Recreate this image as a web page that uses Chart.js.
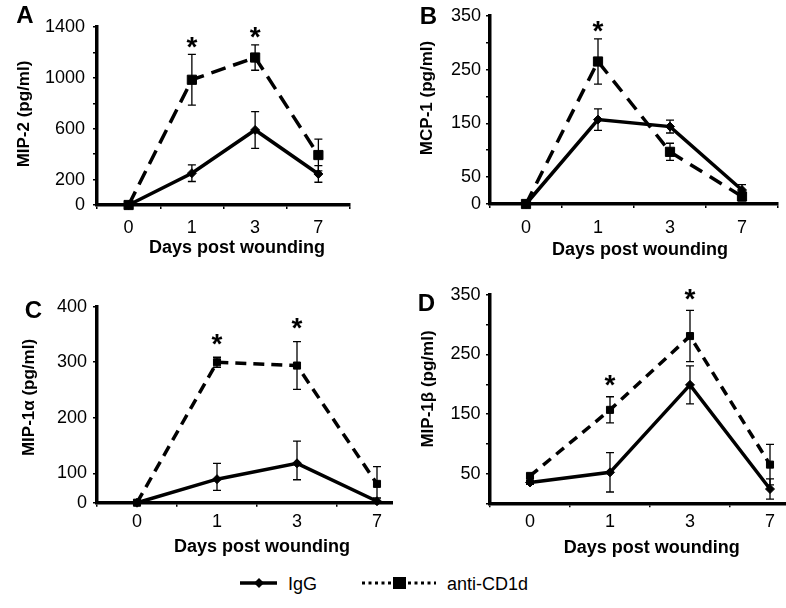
<!DOCTYPE html>
<html>
<head>
<meta charset="utf-8">
<title>Chemokines after wounding</title>
<script src="https://cdn.jsdelivr.net/npm/chart.js@4.4.1/dist/chart.umd.min.js"></script>
<style>
html,body{margin:0;padding:0;background:#fff;}
#wrap{position:relative;width:786px;height:608px;overflow:hidden;background:#fff;}
#wrap canvas{position:absolute;background:#fff;}
#legend{position:absolute;left:0;top:560px;}
</style>
</head>
<body>
<div id="wrap">
  <canvas id="cA" width="393" height="260" style="left:0px;top:0px;width:393px;height:260px"></canvas>
  <canvas id="cB" width="393" height="260" style="left:393px;top:0px;width:393px;height:260px"></canvas>
  <canvas id="cC" width="440" height="300" style="left:0px;top:260px;width:440px;height:300px"></canvas>
  <canvas id="cD" width="440" height="300" style="left:393px;top:260px;width:440px;height:300px"></canvas>
  <svg id="legend" width="786" height="48" xmlns="http://www.w3.org/2000/svg">
    <line x1="240" y1="23" x2="277" y2="23" stroke="#000" stroke-width="3.5"/>
    <polygon points="259,18 264,23 259,28 254,23" fill="#000"/>
    <text id="legIgG" x="288" y="30" font-family="Liberation Sans, Arial, sans-serif" font-size="18" fill="#000"></text>
    <line x1="362" y1="23" x2="393" y2="23" stroke="#000" stroke-width="3" stroke-dasharray="3,3.5"/>
    <rect x="393" y="17" width="13" height="12" fill="#000"/>
    <line x1="408" y1="23" x2="436" y2="23" stroke="#000" stroke-width="3" stroke-dasharray="3,3.5"/>
    <text id="legAnti" x="447" y="30" font-family="Liberation Sans, Arial, sans-serif" font-size="18" fill="#000"></text>
  </svg>
</div>
<script>
// ---------- data ----------
const days = ['0', '1', '3', '7'];
const seriesNames = ['IgG', 'anti-CD1d'];
const xTitle = 'Days post wounding';

// Panel A: MIP-2
const mip2IgG = [0, 250, 590, 244];
const mip2IgGErr = [0, 65, 145, 65];
const mip2Anti = [0, 985, 1160, 393];
const mip2AntiErr = [0, 200, 100, 125];
const mip2Stars = [1, 2];
const mip2TickVals = [0, 200, 400, 600, 800, 1000, 1200, 1400];
const mip2TickLabels = ['0', '200', '600', '1000', '1400'];

// Panel B: MCP-1
const mcp1IgG = [0, 157, 144, 26];
const mcp1IgGErr = [0, 20, 12, 10];
const mcp1Anti = [0, 265, 97, 14];
const mcp1AntiErr = [0, 42, 16, 8];
const mcp1Stars = [1];
const mcp1TickVals = [0, 50, 100, 150, 200, 250, 300, 350];
const mcp1TickLabels = ['0', '50', '150', '250', '350'];

// Panel C: MIP-1alpha
const mip1aIgG = [0, 80, 118, 5];
const mip1aIgGErr = [0, 38, 40, 0];
const mip1aAnti = [0, 300, 294, 64];
const mip1aAntiErr = [0, 9, 43, 48];
const mip1aStars = [1, 2];
const mip1aTickVals = [0, 100, 200, 300, 400];
const mip1aTickLabels = ['0', '100', '200', '300', '400'];

// Panel D: MIP-1beta
const mip1bIgG = [35, 52, 199, 24];
const mip1bIgGErr = [3, 33, 32, 17];
const mip1bAnti = [46, 157, 281, 65];
const mip1bAntiErr = [4, 22, 43, 34];
const mip1bStars = [1, 2];
const mip1bTickVals = [0, 50, 100, 150, 200, 250, 300, 350];
const mip1bTickLabels = ['50', '150', '250', '350'];

document.getElementById('legIgG').textContent = seriesNames[0];
document.getElementById('legAnti').textContent = seriesNames[1];

// ---------- setup ----------
const FF = "'Liberation Sans', Arial, sans-serif";
Chart.defaults.font.family = FF;
Chart.defaults.color = '#000';

// piecewise-linear value axis (panel C's axis has an uneven 0-100 segment)
class PiecewiseScale extends Chart.LinearScale {
  _dec(v) {
    const b = this.options.breaks;
    if (!b) return (v - this.min) / (this.max - this.min);
    const vs = b.values, fs = b.fractions;
    let i = 1;
    while (i < vs.length - 1 && v > vs[i]) i++;
    return fs[i - 1] + (v - vs[i - 1]) / (vs[i] - vs[i - 1]) * (fs[i] - fs[i - 1]);
  }
  getPixelForValue(value) {
    if (value === null || value === undefined || isNaN(value)) return NaN;
    return this.getPixelForDecimal(this._dec(value));
  }
  getValueForPixel(pixel) {
    const d = this.getDecimalForPixel(pixel);
    const b = this.options.breaks;
    if (!b) return this.min + d * (this.max - this.min);
    const vs = b.values, fs = b.fractions;
    let i = 1;
    while (i < fs.length - 1 && d > fs[i]) i++;
    return vs[i - 1] + (d - fs[i - 1]) / (fs[i] - fs[i - 1]) * (vs[i] - vs[i - 1]);
  }
}
PiecewiseScale.id = 'piecewise';
PiecewiseScale.defaults = Chart.LinearScale.defaults;
Chart.register(PiecewiseScale);

function makeDeco(o) {
  return {
    id: 'deco',
    afterDatasetsDraw(chart) {
      const ctx = chart.ctx, ys = chart.scales.y;
      ctx.save();
      ctx.strokeStyle = '#000';
      ctx.lineWidth = 1.3;
      ctx.setLineDash([]);
      const cap = 4;
      chart.data.datasets.forEach((ds, di) => {
        const meta = chart.getDatasetMeta(di);
        ds.errors.forEach((e, i) => {
          if (!e) return;
          const x = meta.data[i].x, v = ds.data[i];
          const yt = ys.getPixelForValue(v + e);
          const yb = ys.getPixelForValue(Math.max(v - e, ys.min));
          ctx.beginPath();
          ctx.moveTo(x, yt); ctx.lineTo(x, yb);
          ctx.moveTo(x - cap, yt); ctx.lineTo(x + cap, yt);
          ctx.moveTo(x - cap, yb); ctx.lineTo(x + cap, yb);
          ctx.stroke();
        });
      });
      // significance stars
      ctx.fillStyle = '#000';
      const sf = o.starSize;
      ctx.font = 'bold ' + sf + 'px ' + FF;
      ctx.textAlign = 'center';
      ctx.textBaseline = 'alphabetic';
      o.stars.forEach(i => {
        let top = -Infinity, x = 0;
        chart.data.datasets.forEach((ds, di) => {
          const t = ds.data[i] + (ds.errors[i] || 0);
          if (t > top) { top = t; x = chart.getDatasetMeta(di).data[i].x; }
        });
        ctx.fillText('*', x, ys.getPixelForValue(top) - o.starGap + 0.555 * sf);
      });
      // panel letter and axis titles
      o.texts.forEach(t => {
        ctx.save();
        ctx.font = t.font;
        ctx.textAlign = 'center';
        ctx.textBaseline = 'middle';
        ctx.translate(t.x, t.y);
        if (t.rot) ctx.rotate(t.rot);
        ctx.fillText(t.text, 0, 0);
        ctx.restore();
      });
      ctx.restore();
    }
  };
}

function panel(id, o) {
  return new Chart(document.getElementById(id), {
    type: 'line',
    data: {
      labels: days,
      datasets: [
        {
          label: seriesNames[0], data: o.igg, errors: o.iggErr,
          borderColor: '#000', backgroundColor: '#000', borderWidth: 3.5,
          pointStyle: 'rectRot', pointRadius: o.dr, pointBorderWidth: 1,
          pointBackgroundColor: '#000', pointBorderColor: '#000',
          tension: 0, fill: false, clip: false
        },
        {
          label: seriesNames[1], data: o.anti, errors: o.antiErr,
          borderColor: '#000', backgroundColor: '#000', borderWidth: 3.5, borderDash: o.dash,
          pointStyle: 'rect', pointRadius: o.sr, pointBorderWidth: 1,
          pointBackgroundColor: '#000', pointBorderColor: '#000',
          tension: 0, fill: false, clip: false
        }
      ]
    },
    options: {
      responsive: false, animation: false, events: [],
      layout: { autoPadding: false, padding: { top: o.top, right: o.right, left: 0, bottom: 0 } },
      plugins: { legend: { display: false }, tooltip: { enabled: false } },
      scales: {
        x: {
          type: 'category', offset: true,
          afterFit: s => { s.height = o.xH; },
          grid: { offset: true, drawOnChartArea: false, drawTicks: true, tickLength: 4, color: '#000', lineWidth: 1.5 },
          border: { display: true, color: '#000', width: 3.5 },
          ticks: { padding: o.xPad, font: { size: 18 }, color: '#000', maxRotation: 0, autoSkip: false }
        },
        y: {
          type: o.yType || 'linear',
          min: 0, max: o.yMax,
          breaks: o.breaks,
          afterBuildTicks: s => { s.ticks = o.yTicks.map(v => ({ value: v })); },
          afterFit: s => { s.width = 97; },
          grid: { drawOnChartArea: false, drawTicks: true, tickLength: 4, color: '#000', lineWidth: 1.5 },
          border: { display: true, color: '#000', width: 3.5 },
          ticks: {
            autoSkip: false, padding: o.yPad, font: { size: 18 }, color: '#000',
            callback: v => (o.yLabels.includes(String(v)) ? String(v) : '')
          }
        }
      }
    },
    plugins: [makeDeco(o)]
  });
}

const letterFont = 'bold 24px ' + FF;
const yTitleFont = 'bold 17px ' + FF;
const xTitleFont = 'bold 18px ' + FF;
const UP = -Math.PI / 2;

panel('cA', {
  igg: mip2IgG, iggErr: mip2IgGErr, anti: mip2Anti, antiErr: mip2AntiErr,
  stars: mip2Stars, yTicks: mip2TickVals, yLabels: mip2TickLabels, yMax: 1400,
  top: 27, right: 43, xH: 55, yPad: 8, xPad: 8, dr: 4.5, sr: 6.5, dash: [15, 8],
  starSize: 28, starGap: 14,
  texts: [
    { text: 'A', x: 25, y: 16.5, font: letterFont },
    { text: 'MIP-2 (pg/ml)', x: 24, y: 114, rot: UP, font: yTitleFont },
    { text: xTitle, x: 237, y: 248.3, font: xTitleFont }
  ]
});

panel('cB', {
  igg: mcp1IgG, iggErr: mcp1IgGErr, anti: mcp1Anti, antiErr: mcp1AntiErr,
  stars: mcp1Stars, yTicks: mcp1TickVals, yLabels: mcp1TickLabels, yMax: 350,
  top: 15, right: 8, xH: 56, yPad: 5, xPad: 9, dr: 4.5, sr: 6.5, dash: [14, 9],
  starSize: 28, starGap: 14,
  texts: [
    { text: 'B', x: 35.5, y: 17.5, font: letterFont },
    { text: 'MCP-1 (pg/ml)', x: 34.5, y: 98, rot: UP, font: yTitleFont },
    { text: xTitle, x: 247, y: 250, font: xTitleFont }
  ]
});

panel('cC', {
  igg: mip1aIgG, iggErr: mip1aIgGErr, anti: mip1aAnti, antiErr: mip1aAntiErr,
  stars: mip1aStars, yTicks: mip1aTickVals, yLabels: mip1aTickLabels, yMax: 400,
  yType: 'piecewise', breaks: { values: [0, 100, 400], fractions: [0, 0.15, 1] },
  top: 46.7, right: 23, xH: 57.3, yPad: 6, xPad: 5, dr: 4.5, sr: 5, dash: [11, 7],
  starSize: 28, starGap: 20,
  texts: [
    { text: 'C', x: 33.5, y: 51.7, font: letterFont },
    { text: 'MIP-1\u03B1 (pg/ml)', x: 29.5, y: 137.5, rot: UP, font: yTitleFont },
    { text: xTitle, x: 262, y: 287.3, font: xTitleFont }
  ]
});

panel('cD', {
  igg: mip1bIgG, iggErr: mip1bIgGErr, anti: mip1bAnti, antiErr: mip1bAntiErr,
  stars: mip1bStars, yTicks: mip1bTickVals, yLabels: mip1bTickLabels, yMax: 350,
  top: 35, right: 23, xH: 56.7, yPad: 5.4, xPad: 4.4, dr: 4.5, sr: 5, dash: [10, 7],
  starSize: 28, starGap: 18,
  texts: [
    { text: 'D', x: 33.5, y: 44, font: letterFont },
    { text: 'MIP-1\u03B2 (pg/ml)', x: 35, y: 129, rot: UP, font: yTitleFont },
    { text: xTitle, x: 258.7, y: 288.3, font: xTitleFont }
  ]
});
</script>
</body>
</html>
